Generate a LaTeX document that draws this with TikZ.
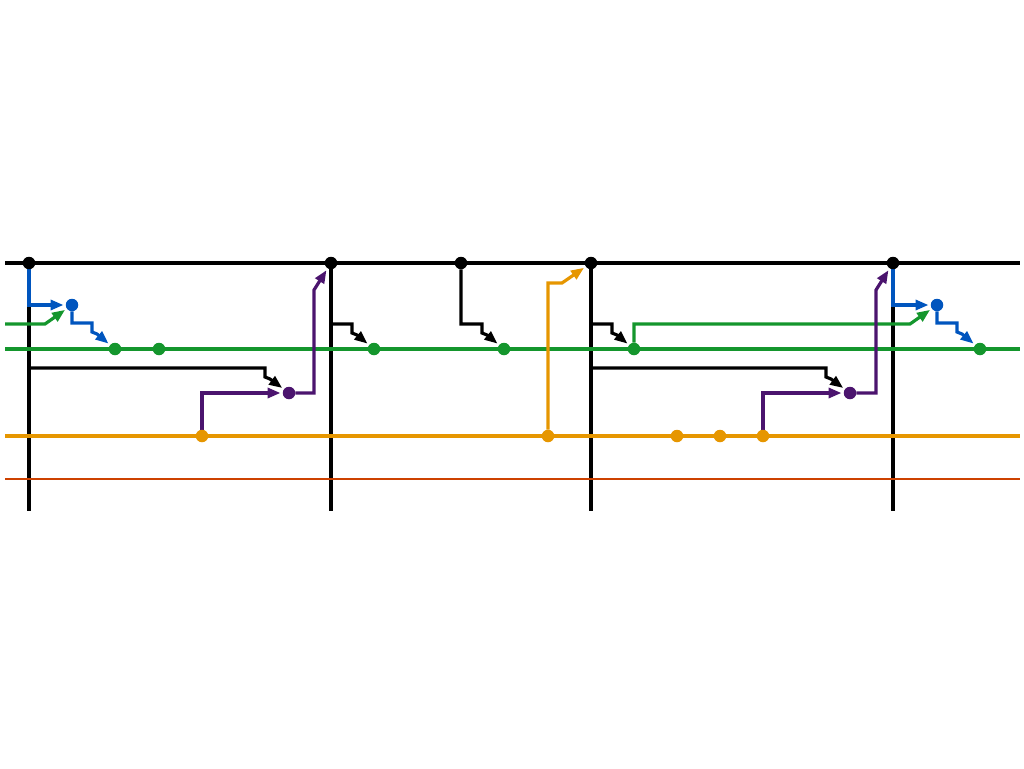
\documentclass[tikz,border=0pt]{standalone}
\usetikzlibrary{arrows.meta,backgrounds}
\definecolor{cgreen}{RGB}{20,150,45}
\definecolor{cblue}{RGB}{0,85,190}
\definecolor{cpurple}{RGB}{75,20,110}
\definecolor{corange}{RGB}{230,150,0}
\definecolor{cred}{RGB}{205,65,0}
\begin{document}
\begin{tikzpicture}[x=1pt,y=-1pt,
  wire/.style={line width=3.2pt},
  arr/.style={wire,-{Triangle[length=13pt,width=10pt]},shorten >=2pt},
  dot/.style={circle,inner sep=0pt,minimum size=12.5pt,fill=#1}]
\useasboundingbox (0,0) rectangle (1024,768);
% junction dots
\node[dot=black] (k1) at (29,263) {};
\node[dot=black] (k2) at (331,263) {};
\node[dot=black] (k3) at (461,263) {};
\node[dot=black] (k4) at (591,263) {};
\node[dot=black] (k5) at (893,263) {};
\node[dot=cgreen] (g1) at (115,349) {};
\node[dot=cgreen] (g2) at (159,349) {};
\node[dot=cgreen] (g3) at (374,349) {};
\node[dot=cgreen] (g4) at (504,349) {};
\node[dot=cgreen] (g5) at (634,349) {};
\node[dot=cgreen] (g6) at (980,349) {};
\node[dot=cblue] (b1) at (72,305) {};
\node[dot=cblue] (b2) at (937,305) {};
\node[dot=cpurple] (p1) at (289,393) {};
\node[dot=cpurple] (p2) at (850,393) {};
\node[dot=corange] (o1) at (202,436) {};
\node[dot=corange] (o2) at (548,436) {};
\node[dot=corange] (o3) at (677,436) {};
\node[dot=corange] (o4) at (720,436) {};
\node[dot=corange] (o5) at (763,436) {};
% line ends
\coordinate (tl) at (5,263);   \coordinate (tr) at (1020,263);
\coordinate (gl) at (5,349);   \coordinate (gr) at (1020,349);
\coordinate (ol) at (5,436);   \coordinate (or) at (1020,436);
\coordinate (rl) at (5,479);   \coordinate (rr) at (1020,479);
\coordinate (gs) at (5,324);
\coordinate (v1) at (29,511);  \coordinate (v2) at (331,511);
\coordinate (v4) at (591,511); \coordinate (v5) at (893,511);
\begin{pgfonlayer}{background}
\begin{scope}[line width=3.2pt]
% vertical rails
\draw[wire] (k1) -- (v1);
\draw[wire] (k2) -- (v2);
\draw[wire] (k4) -- (v4);
\draw[wire] (k5) -- (v5);
% horizontal rails
\draw[wire] (tl) -- (tr);
\draw[wire,cgreen] (gl) -- (gr);
\draw[wire,corange] (ol) -- (or);
\draw[cred,line width=2.8pt] (rl) -- (rr);
% black lightning connectors
\draw[arr] (331,324) -- (352,324) -- (352,333) -- (357,335) -- (g3);
\draw[arr] (k3) -- (461,324) -- (482,324) -- (482,333) -- (487,335) -- (g4);
\draw[arr] (591,324) -- (612,324) -- (612,333) -- (617,335) -- (g5);
\draw[arr] (29,368) -- (265,368) -- (265,377) -- (270,379) -- (p1);
\draw[arr] (591,368) -- (826,368) -- (826,377) -- (831,379) -- (p2);
% green branches
\draw[cgreen,arr] (gs) -- (45,324) -- (b1);
\draw[cgreen,arr] (g5) -- (634,324) -- (910,324) -- (b2);
% blue connectors
\draw[cblue,arr] (k1) -- (29,305) -- (b1);
\draw[cblue,arr] (b1) -- (72,323) -- (92,323) -- (92,332) -- (97,334) -- (g1);
\draw[cblue,arr] (k5) -- (893,305) -- (b2);
\draw[cblue,arr] (b2) -- (937,323) -- (957,323) -- (957,332) -- (962,334) -- (g6);
% purple connectors
\draw[cpurple,arr] (o1) -- (202,393) -- (p1);
\draw[cpurple,arr] (p1) -- (314,393) -- (314,290) -- (k2);
\draw[cpurple,arr] (o5) -- (763,393) -- (p2);
\draw[cpurple,arr] (p2) -- (876,393) -- (876,290) -- (k5);
% orange connector
\draw[corange,arr] (o2) -- (548,283) -- (562,283) -- (k4);
\end{scope}
\end{pgfonlayer}
\end{tikzpicture}
\end{document}
